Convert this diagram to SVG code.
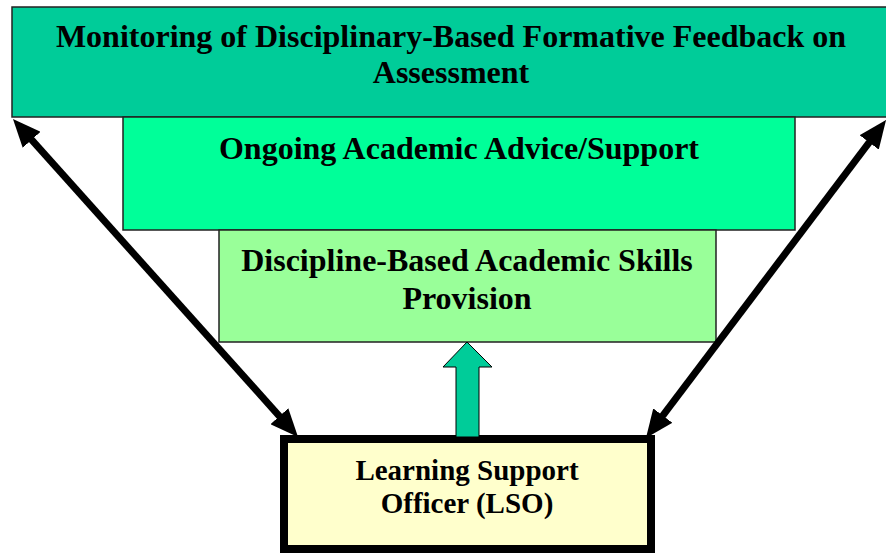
<svg xmlns="http://www.w3.org/2000/svg" width="886" height="553" viewBox="0 0 886 553">
  <style>
    .box { stroke: #222; stroke-width: 1.5; }
    .t { font-family: "Liberation Serif", "Times New Roman", serif; font-weight: bold; fill: #000; text-anchor: middle; }
    .big { font-size: 32px; }
    .mid { font-size: 29px; }
    .conn { stroke: #000; stroke-width: 7; fill: none; }
  </style>
  <defs>
    <marker id="ah" viewBox="0 -12 28 24" refX="17" refY="0" markerWidth="28" markerHeight="24" markerUnits="userSpaceOnUse" orient="auto-start-reverse">
      <path d="M0,-12 L28,0 L0,12 z" fill="#000"/>
    </marker>
  </defs>
  <rect width="886" height="553" fill="#fff"/>
  <g id="node-monitoring">
    <rect class="box" x="12" y="7" width="880" height="110" fill="#00CC99"/>
    <text class="t big" x="451" y="47">Monitoring of Disciplinary-Based Formative Feedback on</text>
    <text class="t big" x="451" y="83">Assessment</text>
  </g>
  <g id="node-ongoing">
    <rect class="box" x="123" y="117" width="672" height="113" fill="#00FF99"/>
    <text class="t big" x="459" y="159">Ongoing Academic Advice/Support</text>
  </g>
  <g id="node-discipline">
    <rect class="box" x="219" y="230" width="497" height="112" fill="#99FF99"/>
    <text class="t big" x="467" y="271">Discipline-Based Academic Skills</text>
    <text class="t big" x="467" y="309">Provision</text>
  </g>
  <g id="node-lso">
    <rect x="284" y="439" width="367" height="110" fill="#FFFFCC" stroke="#000" stroke-width="8"/>
    <text class="t mid" x="467" y="480">Learning Support</text>
    <text class="t mid" x="467" y="513">Officer (LSO)</text>
  </g>
  <g id="connectors">
    <polygon points="467,342 492,367 479,367 479,437 456,437 456,367 443,367" fill="#00CC99" stroke="#000" stroke-width="1"/>
    <line class="conn" x1="20.3" y1="127.2" x2="290.7" y2="428.8" marker-start="url(#ah)" marker-end="url(#ah)"/>
    <line class="conn" x1="879.4" y1="128.8" x2="652.6" y2="429.2" marker-start="url(#ah)" marker-end="url(#ah)"/>
  </g>
</svg>
